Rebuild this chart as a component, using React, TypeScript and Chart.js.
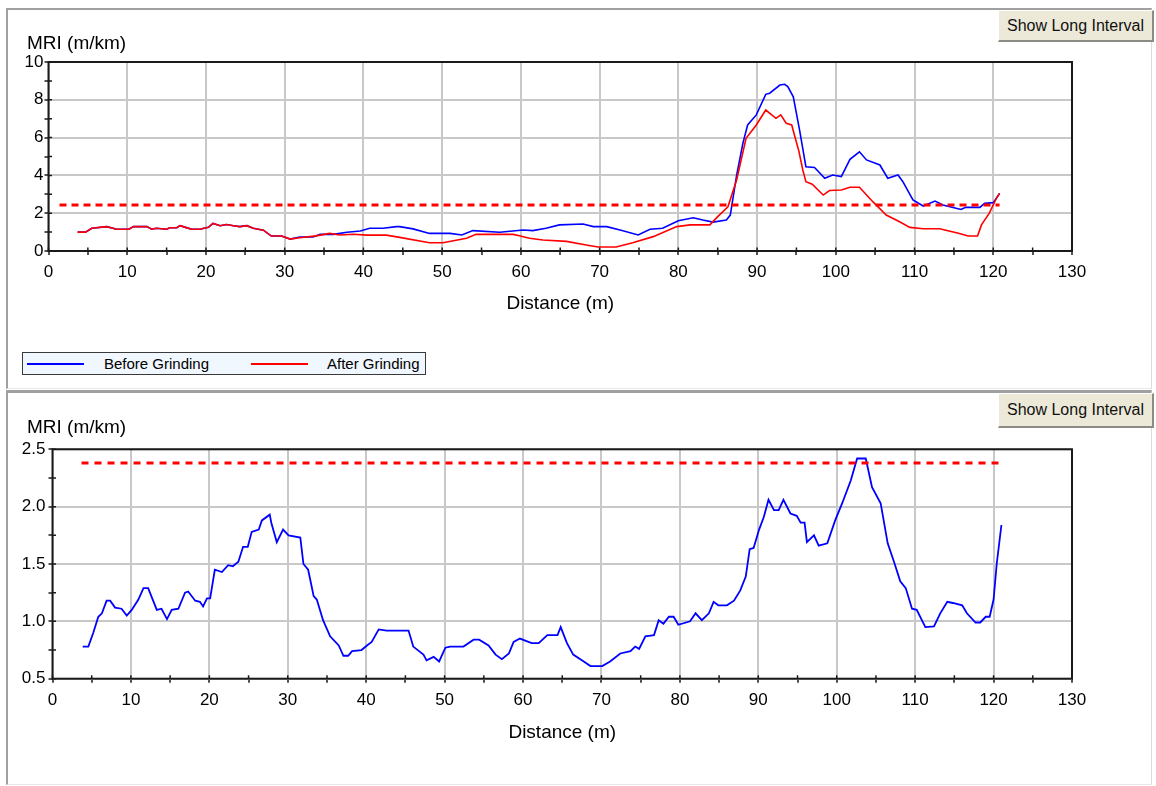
import React, { useEffect, useRef } from 'react';
import { Chart, registerables } from 'chart.js';

Chart.register(...registerables);
Chart.defaults.font.family = '"Liberation Sans", Arial, sans-serif';
Chart.defaults.color = '#000';

// ---------- Data ----------
const distanceMin = 0;
const distanceMax = 130;
const yAxisCaption = 'MRI (m/km)';
const xAxisCaption = 'Distance (m)';

// Top chart: After Grinding (red)
const afterX = [3.7, 4.7, 5.5, 7.4, 8.65, 10.2, 10.8, 12.5, 13.1, 13.7, 15.0, 15.4, 16.3, 16.7, 17.4, 18.2, 19.2, 20.3, 20.9, 21.8, 22.6, 23.5, 24.3, 25.2, 26.0, 27.3, 28.3, 29.6, 30.7, 31.9, 34.0, 35.7, 37.0, 38.7, 40.4, 42.9, 44.6, 48.4, 50.1, 53.1, 54.3, 59.0, 59.8, 61.1, 62.8, 65.8, 68.3, 69.8, 72.1, 74.2, 76.8, 79.8, 81.5, 84.0, 85.0, 86.3, 87.4, 88.6, 89.9, 91.1, 92.4, 93.0, 93.7, 94.4, 94.9, 95.3, 95.8, 96.2, 97.0, 98.4, 99.2, 100.7, 101.8, 103.0, 104.7, 106.4, 108.1, 109.4, 111.1, 113.2, 115.7, 116.8, 118.0, 118.5, 119.5, 120.4, 120.8];
const afterY = [1.0, 1.0, 1.2, 1.29, 1.15, 1.15, 1.29, 1.29, 1.15, 1.2, 1.15, 1.23, 1.23, 1.34, 1.25, 1.15, 1.15, 1.25, 1.46, 1.34, 1.4, 1.34, 1.29, 1.34, 1.2, 1.1, 0.79, 0.79, 0.63, 0.7, 0.8, 0.93, 0.85, 0.89, 0.84, 0.84, 0.72, 0.44, 0.44, 0.67, 0.88, 0.88, 0.81, 0.67, 0.58, 0.51, 0.32, 0.21, 0.21, 0.44, 0.76, 1.29, 1.38, 1.38, 1.82, 2.34, 3.76, 5.96, 6.67, 7.46, 7.02, 7.2, 6.76, 6.67, 5.9, 5.3, 4.3, 3.67, 3.53, 2.96, 3.2, 3.23, 3.37, 3.37, 2.61, 1.9, 1.55, 1.25, 1.18, 1.18, 0.93, 0.79, 0.79, 1.38, 2.0, 2.79, 3.05];

// Top chart: Before Grinding (blue)
const beforeX = [3.7, 4.7, 5.5, 7.4, 8.65, 10.2, 10.8, 12.5, 13.1, 13.7, 15.0, 15.4, 16.3, 16.7, 17.4, 18.2, 19.2, 20.3, 20.9, 21.8, 22.6, 23.5, 24.3, 25.2, 26.0, 27.3, 28.3, 29.6, 30.7, 31.9, 33.6, 34.5, 36.2, 37.9, 39.6, 40.8, 42.5, 44.2, 44.6, 46.3, 48.4, 51.0, 52.5, 53.9, 57.3, 60.3, 61.5, 63.2, 64.9, 67.9, 69.2, 70.9, 72.6, 74.9, 76.4, 78.0, 80.0, 81.9, 83.1, 84.4, 86.1, 86.6, 87.4, 88.2, 88.8, 89.9, 91.1, 91.6, 92.9, 93.5, 93.9, 94.6, 95.4, 96.2, 97.3, 98.6, 99.6, 100.7, 101.8, 103.0, 103.9, 105.6, 106.6, 107.9, 108.5, 109.8, 111.1, 112.6, 113.6, 115.9, 116.5, 118.3, 118.9, 120.0, 120.8];
const beforeY = [1.0, 1.0, 1.2, 1.29, 1.15, 1.15, 1.29, 1.29, 1.15, 1.2, 1.15, 1.23, 1.23, 1.34, 1.25, 1.15, 1.15, 1.25, 1.46, 1.34, 1.4, 1.34, 1.29, 1.34, 1.2, 1.1, 0.79, 0.79, 0.63, 0.74, 0.74, 0.88, 0.88, 0.99, 1.06, 1.2, 1.2, 1.29, 1.29, 1.17, 0.93, 0.93, 0.85, 1.08, 0.99, 1.11, 1.08, 1.2, 1.38, 1.43, 1.29, 1.29, 1.11, 0.85, 1.15, 1.2, 1.6, 1.76, 1.64, 1.53, 1.64, 1.9, 4.0, 5.7, 6.67, 7.2, 8.29, 8.35, 8.78, 8.82, 8.7, 8.16, 6.4, 4.46, 4.42, 3.85, 4.02, 3.94, 4.85, 5.25, 4.82, 4.55, 3.85, 4.02, 3.68, 2.7, 2.38, 2.64, 2.43, 2.2, 2.31, 2.31, 2.52, 2.56, 3.05];

const topLimitX = [1.4, 120.8];
const topLimitY = [2.43, 2.43];

// Bottom chart (blue)
const longX = [3.85, 4.57, 5.2, 5.84, 6.3, 6.9, 7.35, 7.98, 8.8, 9.47, 10.1, 10.95, 11.6, 12.2, 13.3, 13.9, 14.6, 15.2, 16.05, 16.9, 17.3, 18.2, 18.8, 19.2, 19.7, 20.1, 20.7, 21.6, 22.4, 23.0, 23.7, 24.3, 24.9, 25.4, 26.3, 26.7, 27.7, 27.9, 28.6, 29.4, 30.1, 31.6, 32.0, 32.6, 33.3, 33.7, 34.5, 35.4, 36.5, 37.1, 37.7, 38.2, 39.4, 40.1, 40.7, 41.6, 42.6, 43.7, 44.3, 45.4, 46.0, 47.3, 47.7, 48.6, 49.3, 50.1, 50.7, 52.4, 53.7, 54.4, 55.6, 56.5, 57.3, 58.2, 58.8, 59.6, 61.1, 62.0, 63.1, 64.4, 64.8, 65.6, 66.4, 67.5, 68.6, 70.1, 71.1, 72.4, 73.7, 74.3, 74.8, 75.6, 76.7, 77.3, 77.9, 78.6, 79.2, 79.8, 81.3, 82.0, 82.8, 83.7, 84.3, 84.9, 86.0, 86.9, 87.7, 88.4, 88.9, 89.4, 90.1, 90.7, 91.3, 92.0, 92.6, 93.2, 94.1, 94.9, 95.4, 95.9, 96.2, 97.1, 97.7, 98.8, 99.8, 100.7, 101.8, 102.6, 103.7, 104.5, 105.6, 106.5, 107.3, 108.1, 108.8, 109.6, 110.2, 111.3, 112.4, 113.2, 114.1, 114.8, 116.0, 116.6, 117.7, 118.3, 119.0, 119.5, 120.0, 120.4, 121.0];
const longY = [0.78, 0.78, 0.9, 1.04, 1.07, 1.18, 1.18, 1.12, 1.11, 1.05, 1.1, 1.19, 1.29, 1.29, 1.1, 1.11, 1.02, 1.1, 1.11, 1.25, 1.26, 1.18, 1.17, 1.13, 1.2, 1.2, 1.45, 1.43, 1.49, 1.48, 1.52, 1.65, 1.65, 1.78, 1.8, 1.88, 1.93, 1.86, 1.69, 1.8, 1.75, 1.73, 1.5, 1.45, 1.22, 1.19, 1.01, 0.87, 0.79, 0.7, 0.7, 0.74, 0.75, 0.79, 0.82, 0.93, 0.92, 0.92, 0.92, 0.92, 0.78, 0.71, 0.66, 0.69, 0.65, 0.77, 0.78, 0.78, 0.84, 0.84, 0.79, 0.71, 0.67, 0.72, 0.82, 0.85, 0.81, 0.81, 0.88, 0.88, 0.95, 0.81, 0.71, 0.66, 0.61, 0.61, 0.65, 0.72, 0.74, 0.78, 0.76, 0.87, 0.88, 1.01, 0.98, 1.04, 1.04, 0.97, 1.0, 1.07, 1.01, 1.07, 1.17, 1.14, 1.14, 1.18, 1.27, 1.39, 1.63, 1.64, 1.8, 1.91, 2.06, 1.97, 1.97, 2.06, 1.94, 1.92, 1.86, 1.86, 1.69, 1.75, 1.66, 1.68, 1.88, 2.03, 2.23, 2.42, 2.42, 2.17, 2.03, 1.68, 1.52, 1.35, 1.29, 1.11, 1.1, 0.95, 0.955, 1.07, 1.17, 1.16, 1.14, 1.07, 0.99, 0.99, 1.04, 1.04, 1.19, 1.5, 1.84];

const longLimitX = [3.7, 120.9];
const longLimitY = [2.38, 2.38];

const pts = (xs: number[], ys: number[]) => xs.map((x, i) => ({ x, y: ys[i] }));

// ---------- Plugins ----------
const framePlugin = {
  id: 'frame',
  afterDraw(chart: any) {
    const { ctx, chartArea: a, scales } = chart;
    ctx.save();
    ctx.strokeStyle = '#1a1a1a';
    ctx.lineWidth = 1.5;
    ctx.beginPath();
    scales.x.ticks.forEach((t: any) => {
      const p = scales.x.getPixelForValue(t.value);
      ctx.moveTo(p, a.bottom);
      ctx.lineTo(p, a.bottom - 3.5);
    });
    scales.y.ticks.forEach((t: any) => {
      const p = scales.y.getPixelForValue(t.value);
      ctx.moveTo(a.left, p);
      ctx.lineTo(a.left + 3.5, p);
    });
    ctx.stroke();
    ctx.lineWidth = 2;
    ctx.strokeRect(a.left, a.top, a.right - a.left, a.bottom - a.top);
    ctx.restore();
  },
};

// Horizontal y-axis caption above the axis (like the original)
const captionPlugin = {
  id: 'caption',
  afterDraw(chart: any, _args: any, opts: any) {
    const { ctx } = chart;
    ctx.save();
    ctx.fillStyle = '#000';
    ctx.font = '19px "Liberation Sans", Arial, sans-serif';
    ctx.textAlign = 'left';
    ctx.textBaseline = 'middle';
    ctx.fillText(opts.text, opts.x, opts.y);
    ctx.restore();
  },
};

interface ChartSpec {
  datasets: any[];
  yMin: number;
  yMax: number;
  yStep: number;
  yLabelEvery: number;
  yDecimals: number;
  yWidth: number;
  xHeight: number;
  captionY: number;
  padding: { left: number; right: number; top: number; bottom: number };
  yTickPad: number;
}

function buildConfig(s: ChartSpec): any {
  const gridGray = '#c8c8c8';
  return {
    type: 'line',
    data: { datasets: s.datasets },
    plugins: [framePlugin, captionPlugin],
    options: {
      responsive: false,
      animation: false,
      devicePixelRatio: 1,
      events: [],
      layout: { padding: s.padding },
      elements: { line: { tension: 0 }, point: { radius: 0 } },
      plugins: {
        legend: { display: false },
        tooltip: { enabled: false },
        title: { display: false },
        caption: { text: yAxisCaption, x: 19, y: s.captionY },
      },
      scales: {
        x: {
          type: 'linear',
          min: distanceMin,
          max: distanceMax,
          afterFit: (sc: any) => { sc.height = s.xHeight; },
          ticks: {
            stepSize: 5,
            autoSkip: false,
            maxRotation: 0,
            padding: 7,
            color: '#000',
            font: { size: 17 },
            callback: (v: any) => (Math.round(v) % 10 === 0 ? String(v) : ''),
          },
          grid: {
            color: (c: any) => (c.tick && Math.round(c.tick.value) % 10 === 0 ? gridGray : 'rgba(0,0,0,0)'),
            lineWidth: 2,
            tickColor: '#1a1a1a',
            tickLength: 4,
            tickWidth: 1.5,
          },
          border: { display: false },
          title: {
            display: true,
            text: xAxisCaption,
            color: '#000',
            font: { size: 19 },
            padding: { top: 4, bottom: 4 },
          },
        },
        y: {
          type: 'linear',
          min: s.yMin,
          max: s.yMax,
          afterFit: (sc: any) => { sc.width = s.yWidth; },
          ticks: {
            stepSize: s.yStep,
            autoSkip: false,
            padding: s.yTickPad,
            color: '#000',
            font: { size: 17 },
            callback: (v: any) => {
              const k = Math.round(v / s.yLabelEvery * 1000) / 1000;
              return Number.isInteger(k) ? Number(v).toFixed(s.yDecimals) : '';
            },
          },
          grid: {
            color: (c: any) => {
              if (!c.tick) return 'rgba(0,0,0,0)';
              const k = Math.round(c.tick.value / s.yLabelEvery * 1000) / 1000;
              return Number.isInteger(k) ? gridGray : 'rgba(0,0,0,0)';
            },
            lineWidth: 2,
            tickColor: '#1a1a1a',
            tickLength: 4,
            tickWidth: 1.5,
          },
          border: { display: false },
        },
      },
    },
  };
}

function ChartCanvas({ spec, width, height, style }: { spec: ChartSpec; width: number; height: number; style: React.CSSProperties }) {
  const ref = useRef<HTMLCanvasElement | null>(null);
  useEffect(() => {
    if (!ref.current) return;
    const chart = new Chart(ref.current, buildConfig(spec));
    return () => chart.destroy();
  }, []);
  return <canvas ref={ref} width={width} height={height} style={{ position: 'absolute', width, height, ...style }} />;
}

const topSpec: ChartSpec = {
  datasets: [
    { label: 'Limit', data: pts(topLimitX, topLimitY), borderColor: '#ff0000', borderWidth: 3, borderDash: [7, 5], pointRadius: 0, fill: false },
    { label: 'After Grinding', data: pts(afterX, afterY), borderColor: '#ff0000', borderWidth: 1.6, pointRadius: 0, fill: false },
    { label: 'Before Grinding', data: pts(beforeX, beforeY), borderColor: '#0000ff', borderWidth: 1.6, pointRadius: 0, fill: false },
  ],
  yMin: 0,
  yMax: 10,
  yStep: 1,
  yLabelEvery: 2,
  yDecimals: 0,
  yWidth: 38.5,
  xHeight: 67.9,
  captionY: 33.5,
  padding: { left: 2, right: 80, top: 52, bottom: 67.1 },
  yTickPad: 1,
};

const bottomSpec: ChartSpec = {
  datasets: [
    { label: 'Limit', data: pts(longLimitX, longLimitY), borderColor: '#ff0000', borderWidth: 3, borderDash: [7, 6], pointRadius: 0, fill: false },
    { label: 'MRI', data: pts(longX, longY), borderColor: '#0000ff', borderWidth: 1.8, pointRadius: 0, fill: false },
  ],
  yMin: 0.5,
  yMax: 2.5,
  yStep: 0.25,
  yLabelEvery: 0.5,
  yDecimals: 1,
  yWidth: 42.5,
  xHeight: 69.7,
  captionY: 34.8,
  padding: { left: 2, right: 80, top: 56.3, bottom: 34.6 },
  yTickPad: 3,
};

const buttonStyle: React.CSSProperties = {
  position: 'absolute',
  left: 998,
  width: 156,
  boxSizing: 'border-box',
  background: '#ece9d8',
  borderTop: '1px solid #ffffff',
  borderLeft: '1px solid #ffffff',
  borderRight: '2px solid #8c8c84',
  borderBottom: '2px solid #8c8c84',
  font: '16px "Liberation Sans", Arial, sans-serif',
  color: '#111',
  padding: 0,
  margin: 0,
};

export default function App() {
  return (
    <div style={{ position: 'absolute', left: 0, top: 0, width: 1156, height: 786, background: '#fff', overflow: 'hidden', fontFamily: '"Liberation Sans", Arial, sans-serif' }}>
      {/* top panel */}
      <div style={{ position: 'absolute', left: 6, top: 8, width: 1146, height: 381, boxSizing: 'border-box', borderTop: '2px solid #a0a0a0', borderLeft: '2px solid #a0a0a0', borderRight: '1px solid #dcdcdc', borderBottom: '1px solid #e8e8e8' }} />
      {/* bottom panel */}
      <div style={{ position: 'absolute', left: 6, top: 390, width: 1146, height: 395, boxSizing: 'border-box', borderTop: '3px solid #a0a0a0', borderLeft: '2px solid #a0a0a0', borderRight: '1px solid #dcdcdc', borderBottom: '1px solid #e8e8e8' }} />

      <ChartCanvas spec={topSpec} width={1144} height={376} style={{ left: 8, top: 10 }} />
      <ChartCanvas spec={bottomSpec} width={1144} height={390} style={{ left: 8, top: 393 }} />

      <button style={{ ...buttonStyle, top: 10, height: 32 }}>Show Long Interval</button>
      <button style={{ ...buttonStyle, top: 393, height: 35 }}>Show Long Interval</button>

      {/* legend */}
      <div style={{ position: 'absolute', left: 22, top: 352, width: 404, height: 23, boxSizing: 'border-box', border: '1px solid #3a3a3a', background: '#f0f7ff', font: '15px "Liberation Sans", Arial, sans-serif', color: '#000' }}>
        <div style={{ position: 'absolute', left: 4, top: 10, width: 57, height: 0, borderTop: '2px solid #0000ff' }} />
        <div style={{ position: 'absolute', left: 81, top: 2, lineHeight: '17px', whiteSpace: 'nowrap' }}>Before Grinding</div>
        <div style={{ position: 'absolute', left: 228, top: 10, width: 57, height: 0, borderTop: '2px solid #ff0000' }} />
        <div style={{ position: 'absolute', left: 304, top: 2, lineHeight: '17px', whiteSpace: 'nowrap' }}>After Grinding</div>
      </div>
    </div>
  );
}
